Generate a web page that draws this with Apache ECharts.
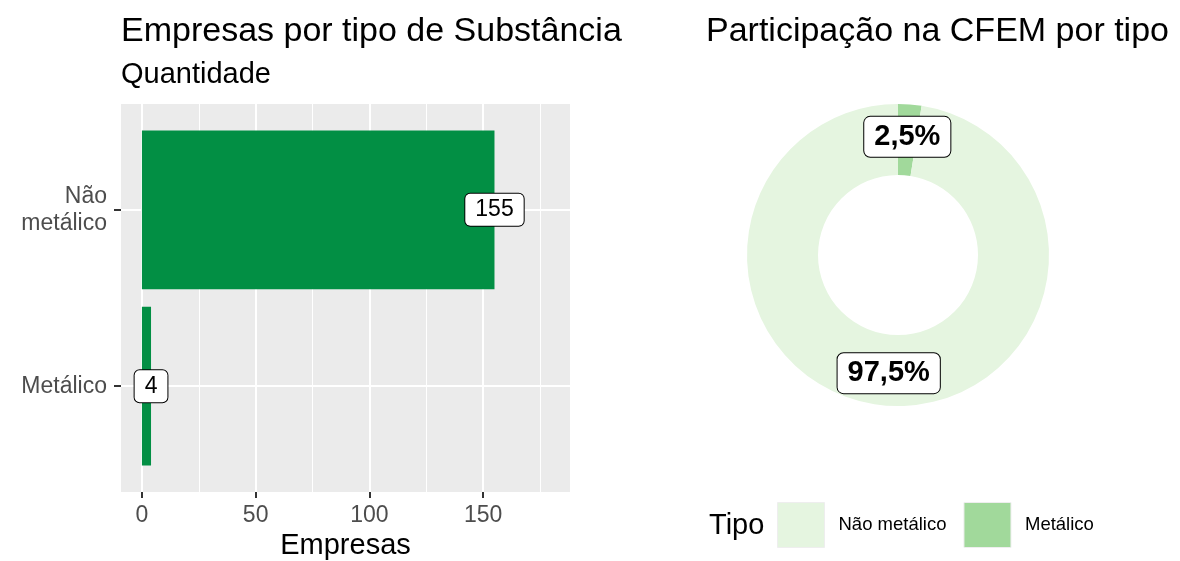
<!DOCTYPE html>
<html>
<head>
<meta charset="utf-8">
<script src="https://cdn.jsdelivr.net/npm/echarts@6/dist/echarts.min.js"></script>
<style>
  html, body { margin: 0; padding: 0; background: #ffffff; }
  #chart { width: 1180px; height: 561px; }
</style>
</head>
<body>
<div id="chart"></div>
<script>
// ---- data ----
const categorias = ['Metálico', 'Não metálico'];
const empresas = [4, 155];
const xTicks = [0, 50, 100, 150];
const xMinorTicks = [25, 75, 125, 175];
const tipos = ['Não metálico', 'Metálico'];
const participacao = [97.5, 2.5];
const participacaoLabels = ['97,5%', '2,5%'];

// ---- build ----
const FONT = 'Liberation Sans, Arial, sans-serif';
const barColor = '#028f44';
const pieColors = { 'Não metálico': '#e5f5e0', 'Metálico': '#a1d99b' };

const barData = empresas.map((v, i) => [v, i + 1]);
const pieLabelByName = {};
tipos.forEach((t, i) => { pieLabelByName[t] = participacaoLabels[i]; });
// clockwise from 12 o'clock: Metálico first, then Não metálico
const pieData = tipos.map((t, i) => ({ name: t, value: participacao[i], itemStyle: { color: pieColors[t] } })).reverse();

const xMin = -9.2, xMax = 188.2;

const chart = echarts.init(document.getElementById('chart'), null, { renderer: 'canvas' });
chart.setOption({
  animation: false,
  textStyle: { fontFamily: FONT },
  title: [
    { text: 'Empresas por tipo de Substância', left: 121, top: 15, padding: 0,
      textStyle: { fontSize: 34, fontWeight: 'normal', color: '#000', fontFamily: FONT } },
    { text: 'Quantidade', left: 121, top: 60, padding: 0,
      textStyle: { fontSize: 29, fontWeight: 'normal', color: '#000', fontFamily: FONT } },
    { text: 'Participação na CFEM por tipo', left: 706, top: 15, padding: 0,
      textStyle: { fontSize: 34, fontWeight: 'normal', color: '#000', fontFamily: FONT } },
    { text: 'Tipo', left: 709, top: 511, padding: 0,
      textStyle: { fontSize: 29, fontWeight: 'normal', color: '#000', fontFamily: FONT } }
  ],
  grid: [{
    left: 121, top: 104, width: 449, height: 388,
    outerBoundsMode: 'none', containLabel: false,
    show: true, backgroundColor: '#ebebeb', borderWidth: 0
  }],
  xAxis: [
    {
      type: 'value', gridIndex: 0, min: xMin, max: xMax,
      name: 'Empresas', nameLocation: 'middle', nameGap: 39,
      nameTextStyle: { fontSize: 29, color: '#000', fontFamily: FONT },
      axisLine: { show: false, onZero: false },
      axisTick: { show: true, length: 6, customValues: xTicks, lineStyle: { color: '#333333', width: 2 } },
      axisLabel: { customValues: xTicks, fontSize: 23, color: '#4d4d4d', margin: 12, fontFamily: FONT },
      splitLine: { show: true, lineStyle: { color: '#ffffff', width: 2 } }
    },
    {
      type: 'value', gridIndex: 0, min: xMin, max: xMax, position: 'bottom',
      axisLine: { show: false, onZero: false },
      axisTick: { show: false, customValues: xMinorTicks },
      axisLabel: { show: false, customValues: xMinorTicks },
      splitLine: { show: true, lineStyle: { color: '#ffffff', width: 1 } }
    }
  ],
  yAxis: [{
    type: 'value', gridIndex: 0, min: 0.4, max: 2.6,
    axisLine: { show: false, onZero: false },
    axisTick: { show: true, length: 7, customValues: [1, 2], lineStyle: { color: '#333333', width: 2 } },
    axisLabel: {
      customValues: [1, 2], fontSize: 23, color: '#4d4d4d', margin: 14, lineHeight: 27,
      fontFamily: FONT, align: 'right',
      formatter: v => { const c = categorias[Math.round(v) - 1]; return c ? c.replace(' ', '\n') : ''; }
    },
    splitLine: { show: true, lineStyle: { color: '#ffffff', width: 2 } }
  }],
  legend: {
    data: tipos, left: 777, top: 502, orient: 'horizontal', padding: 0,
    itemWidth: 47, itemHeight: 45, itemGap: 17, icon: 'rect', selectedMode: false,
    itemStyle: { borderColor: '#eeeeee', borderWidth: 1 },
    textStyle: { fontSize: 18.5, color: '#000', fontFamily: FONT, padding: [0, 0, 0, 9] }
  },
  series: [
    {
      type: 'custom', xAxisIndex: 0, yAxisIndex: 0, silent: true,
      data: barData,
      renderItem: (params, api) => {
        const v = api.value(0), y = api.value(1);
        const p0 = api.coord([0, y + 0.45]);
        const p1 = api.coord([v, y - 0.45]);
        return { type: 'rect', shape: { x: p0[0], y: p0[1], width: p1[0] - p0[0], height: p1[1] - p0[1] },
                 style: { fill: barColor } };
      },
      z: 2
    },
    {
      type: 'scatter', xAxisIndex: 0, yAxisIndex: 0, silent: true, symbolSize: 0,
      itemStyle: { opacity: 1 },
      data: barData,
      label: {
        show: true, position: 'inside', formatter: p => String(p.value[0]),
        fontSize: 23, color: '#000', fontFamily: FONT, opacity: 1,
        backgroundColor: '#ffffff', borderColor: '#000', borderWidth: 1, borderRadius: 5,
        padding: [5, 10, 4, 10]
      },
      emphasis: { disabled: true },
      z: 5
    },
    {
      type: 'pie', center: [898, 255], radius: [80, 151], startAngle: 90, clockwise: true,
      silent: true, avoidLabelOverlap: false,
      data: pieData,
      label: {
        show: true, position: 'inside',
        formatter: p => pieLabelByName[p.name],
        fontSize: 29, fontWeight: 'bold', color: '#000', fontFamily: FONT,
        backgroundColor: '#ffffff', borderColor: '#000', borderWidth: 1, borderRadius: 6,
        padding: [6, 10, 5, 10]
      },
      labelLine: { show: false },
      emphasis: { disabled: true }
    }
  ]
});
</script>
</body>
</html>
